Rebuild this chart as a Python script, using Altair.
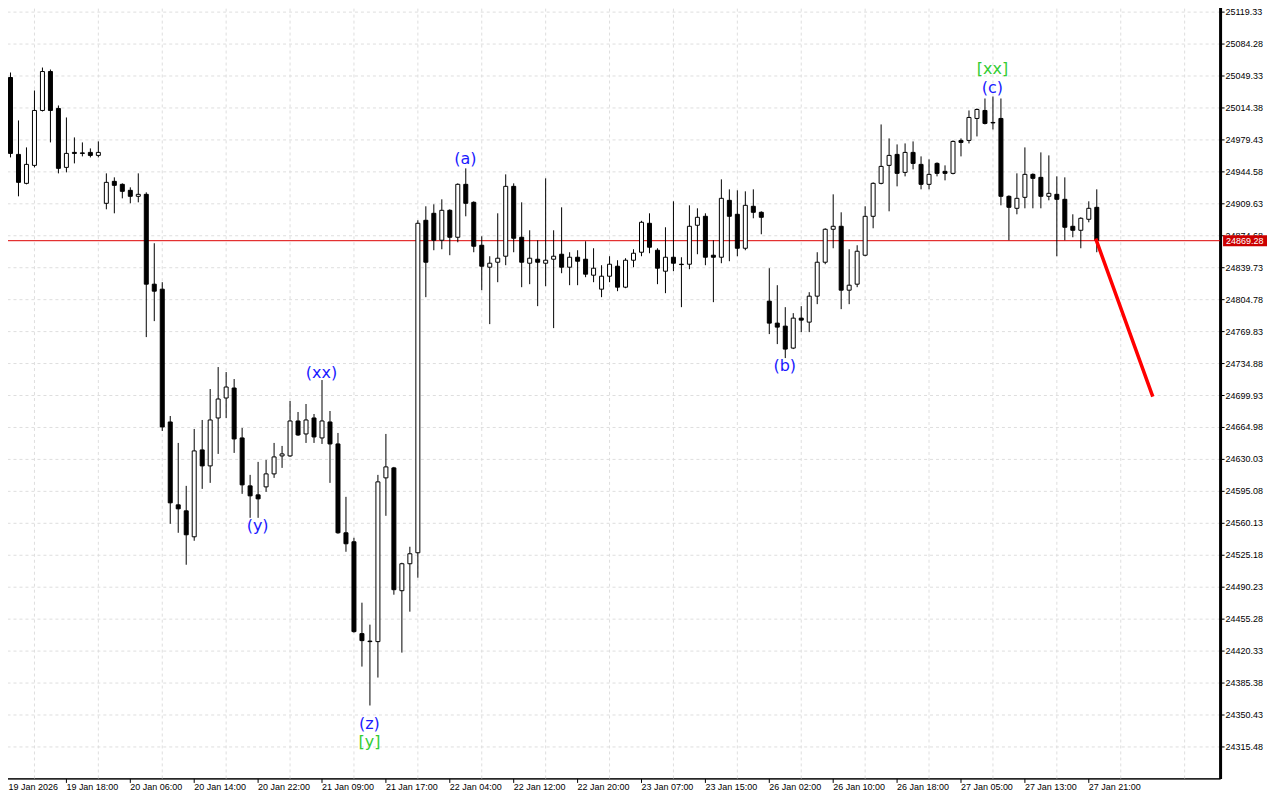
import altair as alt
import pandas as pd

# ---- candle data (H1) ----
opens = [24952.22, 25047.24, 24963.14, 24931.47, 24951.13, 25011.20, 25053.79, 25013.38, 24948.94, 24965.33,
         24964.80, 24965.33, 24962.05, 24909.62, 24933.65, 24930.38, 24923.82, 24917.27, 24919.45, 24821.16,
         24815.69, 24670.43, 24579.79, 24573.24, 24544.84, 24639.86, 24622.38, 24674.80, 24696.64, 24707.57,
         24652.96, 24600.54, 24590.71, 24599.45, 24613.65, 24633.31, 24633.31, 24671.52, 24657.33, 24674.80,
         24652.96, 24670.43, 24646.40, 24549.21, 24539.38, 24438.90, 24430.70, 24430.16, 24609.28, 24620.20,
         24485.86, 24515.35, 24527.36, 24891.06, 24898.70, 24869.21, 24901.98, 24872.49, 24930.38, 24910.72,
         24863.75, 24839.72, 24845.18, 24851.74, 24928.19, 24872.49, 24844.09, 24848.46, 24844.09, 24848.46,
         24853.92, 24839.72, 24850.64, 24848.46, 24830.99, 24815.69, 24829.89, 24840.81, 24817.88, 24847.37,
         24856.11, 24887.78, 24858.29, 24835.35, 24850.64, 24843.00, 24843.00, 24885.60, 24895.42, 24852.83,
         24850.64, 24912.90, 24897.61, 24860.47, 24906.35, 24899.79, 24802.59, 24778.56, 24775.28, 24751.25,
         24784.02, 24779.65, 24808.05, 24845.18, 24881.23, 24884.50, 24814.60, 24821.16, 24852.83, 24895.42,
         24931.47, 24951.13, 24963.14, 24943.48, 24965.33, 24952.22, 24930.38, 24953.31, 24944.57, 24942.39,
         24978.43, 24978.43, 25002.46, 25011.20, 24998.09, 25002.46, 24917.27, 24904.16, 24916.18, 24941.30,
         24938.02, 24917.27, 24919.45, 24913.99, 24884.50, 24880.13, 24892.15, 24905.25]
highs = [25050.52, 25052.70, 25000.28, 24970.79, 25033.04, 25058.16, 25055.98, 25016.66, 25003.55, 24981.71,
         24976.25, 24969.69, 24977.34, 24942.39, 24938.02, 24931.47, 24927.10, 24942.39, 24921.64, 24865.94,
         24823.34, 24676.98, 24647.50, 24600.54, 24662.79, 24672.62, 24706.47, 24730.50, 24725.04, 24717.40,
         24663.88, 24612.56, 24626.75, 24628.94, 24647.50, 24644.22, 24693.37, 24681.35, 24690.09, 24679.17,
         24716.30, 24682.45, 24658.42, 24588.53, 24543.75, 24472.75, 24448.73, 24612.56, 24657.33, 24621.29,
         24516.44, 24533.92, 24891.06, 24906.35, 24908.53, 24913.99, 24903.07, 24931.47, 24947.85, 24911.81,
         24873.58, 24851.74, 24898.70, 24941.30, 24931.47, 24910.72, 24880.13, 24869.21, 24936.93, 24880.13,
         24905.25, 24856.11, 24858.29, 24868.12, 24860.47, 24841.91, 24851.74, 24847.37, 24849.55, 24859.38,
         24890.50, 24898.70, 24860.47, 24883.41, 24911.81, 24850.64, 24907.44, 24904.16, 24898.70, 24869.21,
         24935.84, 24924.91, 24923.82, 24922.73, 24924.91, 24900.89, 24838.63, 24820.06, 24796.03, 24789.48,
         24797.13, 24812.42, 24856.11, 24882.32, 24919.45, 24899.79, 24859.38, 24863.75, 24906.35, 24932.56,
         24995.91, 24980.62, 24974.06, 24975.16, 24977.34, 24960.96, 24957.68, 24954.40, 24951.13, 24978.43,
         24980.62, 25011.20, 25013.38, 25024.30, 25026.49, 25024.30, 24918.36, 24942.39, 24970.79, 24942.39,
         24965.33, 24962.05, 24939.11, 24938.02, 24897.61, 24894.33, 24911.81, 24924.91]
lows = [24950.03, 24959.86, 24917.27, 24930.38, 24948.94, 25010.11, 24976.25, 24942.39, 24943.48, 24953.31,
        24960.96, 24959.86, 24959.86, 24903.07, 24898.70, 24915.08, 24909.62, 24910.72, 24763.27, 24780.74,
        24660.60, 24559.04, 24549.21, 24514.26, 24540.47, 24597.26, 24603.82, 24635.49, 24674.80, 24636.58,
        24591.80, 24565.59, 24565.59, 24593.99, 24609.28, 24620.20, 24632.21, 24655.14, 24647.50, 24647.50,
        24646.40, 24603.82, 24548.12, 24528.46, 24439.99, 24402.85, 24360.26, 24390.84, 24567.77, 24481.49,
        24418.14, 24462.92, 24500.06, 24806.96, 24858.29, 24859.38, 24852.83, 24867.03, 24895.42, 24856.11,
        24814.60, 24777.47, 24823.34, 24841.91, 24856.11, 24817.88, 24821.16, 24797.13, 24818.97, 24773.10,
        24833.17, 24820.06, 24820.06, 24828.80, 24823.34, 24806.96, 24823.34, 24813.51, 24816.79, 24839.72,
        24851.74, 24855.01, 24821.16, 24811.33, 24835.35, 24796.03, 24837.54, 24853.92, 24841.91, 24801.50,
        24844.09, 24846.28, 24851.74, 24858.29, 24893.24, 24875.77, 24766.55, 24755.62, 24740.33, 24750.16,
        24768.73, 24768.73, 24799.31, 24843.00, 24860.47, 24793.85, 24799.31, 24817.88, 24851.74, 24882.32,
        24930.38, 24900.89, 24928.19, 24939.11, 24946.76, 24924.91, 24924.91, 24939.11, 24934.74, 24941.30,
        24960.96, 24975.16, 24982.80, 24995.91, 24990.45, 24907.44, 24869.21, 24897.61, 24904.16, 24904.16,
        24904.16, 24912.90, 24851.74, 24869.21, 24872.49, 24860.47, 24888.87, 24856.11]
closes = [25047.24, 24964.23, 24932.56, 24952.22, 25011.20, 25053.79, 25011.20, 24947.85, 24964.23, 24964.23,
          24964.23, 24962.05, 24965.33, 24932.56, 24929.28, 24922.73, 24917.27, 24919.45, 24821.16, 24813.51,
          24664.97, 24581.97, 24575.42, 24547.02, 24638.77, 24622.38, 24672.62, 24695.55, 24708.66, 24651.86,
          24601.63, 24589.62, 24586.34, 24613.65, 24632.21, 24635.49, 24671.52, 24656.23, 24672.62, 24654.05,
          24671.52, 24646.40, 24549.21, 24537.19, 24441.08, 24431.25, 24430.16, 24604.91, 24621.29, 24486.95,
          24515.35, 24526.27, 24887.78, 24845.18, 24869.21, 24901.98, 24872.49, 24930.38, 24909.62, 24862.66,
          24840.81, 24844.09, 24849.55, 24928.19, 24871.40, 24845.18, 24849.55, 24845.18, 24847.37, 24851.74,
          24839.72, 24850.64, 24846.28, 24832.08, 24838.63, 24829.89, 24843.00, 24817.88, 24847.37, 24855.01,
          24888.87, 24861.57, 24838.63, 24850.64, 24844.09, 24842.60, 24884.50, 24894.33, 24850.64, 24850.64,
          24915.08, 24895.42, 24860.47, 24907.44, 24899.79, 24894.33, 24778.56, 24774.19, 24750.16, 24784.02,
          24781.84, 24808.05, 24845.18, 24881.23, 24884.50, 24814.60, 24820.06, 24857.20, 24895.42, 24931.47,
          24950.03, 24962.05, 24942.39, 24965.33, 24953.31, 24930.38, 24941.30, 24942.39, 24942.39, 24977.34,
          24976.25, 25003.55, 25012.29, 24997.00, 24997.60, 24917.27, 24905.25, 24915.08, 24941.30, 24936.93,
          24917.27, 24920.55, 24913.99, 24883.41, 24880.13, 24893.24, 24904.16, 24869.28]

# ---- axis labels ----
x_label_bars = list(range(0, 137, 8))
x_labels = ["19 Jan 2026", "19 Jan 18:00", "20 Jan 06:00", "20 Jan 14:00", "20 Jan 22:00",
            "21 Jan 09:00", "21 Jan 17:00", "22 Jan 04:00", "22 Jan 12:00", "22 Jan 20:00",
            "23 Jan 07:00", "23 Jan 15:00", "26 Jan 02:00", "26 Jan 10:00", "26 Jan 18:00",
            "27 Jan 05:00", "27 Jan 13:00", "27 Jan 21:00"]
v_grid_bars = list(range(4, 152, 8))
y_ticks = [25119.33, 25084.28, 25049.33, 25014.38, 24979.43, 24944.58, 24909.63, 24874.68,
           24839.73, 24804.78, 24769.83, 24734.88, 24699.93, 24664.98, 24630.03, 24595.08,
           24560.13, 24525.18, 24490.23, 24455.28, 24420.33, 24385.38, 24350.43, 24315.48]

# ---- annotations ----
current_price = [24869.28]
forecast_bars = [137, 144]
forecast_prices = [24869.28, 24699.93]
blue_text = ["(a)", "(xx)", "(y)", "(z)", "(b)", "(c)"]
blue_bars = [58, 40, 32, 46, 98, 124]
blue_prices = [24957.68, 24724.50, 24556.30, 24340.05, 24731.60, 25035.77]
green_text = ["[y]", "[xx]"]
green_bars = [46, 124]
green_prices = [24319.84, 25056.53]

df = pd.DataFrame({"i": list(range(len(opens))), "open": opens, "high": highs,
                   "low": lows, "close": closes})

x_scale = alt.Scale(domain=[0, 152.5], nice=False, zero=False)
y_scale = alt.Scale(domain=[24280.53, 25129.16], nice=False, zero=False)

label_expr = "[" + ",".join("'%s'" % s for s in x_labels) + "][round(datum.value / 8)]"
FONT = "Liberation Sans"

x_axis = alt.Axis(values=x_label_bars, labelExpr=label_expr, title=None, grid=False,
                  tickSize=4, tickColor="black", domainColor="black", domainWidth=1,
                  labelFont=FONT, labelFontSize=9, labelColor="black", labelAlign="left",
                  labelBaseline="top", labelPadding=0, labelOverlap=False, labelFlush=False,
                  labelOffset={"condition": {"test": "datum.value == 0", "value": 6}, "value": 0})
y_axis = alt.Axis(orient="right", values=y_ticks, format=".2f", title=None, grid=True,
                  gridColor="#dedede", gridDash=[3, 3], gridWidth=1,
                  tickSize=4, tickColor="black", domainColor="black", domainWidth=3,
                  labelFont=FONT, labelFontSize=9, labelColor="black", labelPadding=1,
                  labelBaseline="middle", labelOverlap=False, labelFlush=False)


def X(field):
    return alt.X(field, type="quantitative", scale=x_scale, axis=x_axis)


def Y(field):
    return alt.Y(field, type="quantitative", scale=y_scale, axis=y_axis)


vgrid = alt.Chart(pd.DataFrame({"g": v_grid_bars})).mark_rule(
    color="#dedede", strokeDash=[3, 3], strokeWidth=1, xOffset=0.5
).encode(x=X("g"))

base = alt.Chart(df)
wicks = base.mark_rule(color="black", strokeWidth=1, xOffset=0.5, clip=True).encode(
    x=X("i"), y=Y("low"), y2="high")
bodies = base.transform_calculate(
    xl="datum.i - 0.25", xr="datum.i + 0.25"
).mark_rect(stroke="black", strokeWidth=1, xOffset=0.5, x2Offset=0.5, clip=True).encode(
    x=X("xl"), x2="xr", y=Y("open"), y2="close",
    fill=alt.condition("datum.close >= datum.open", alt.value("white"), alt.value("black")))

price_df = pd.DataFrame({"p": current_price})
price_line = alt.Chart(price_df).mark_rule(color="#dd0000", strokeWidth=1, yOffset=0.5).encode(
    y=Y("p"))

forecast = alt.Chart(pd.DataFrame({"i": forecast_bars, "p": forecast_prices})).mark_line(
    color="#ff0000", strokeWidth=3.5, strokeCap="square").encode(x=X("i"), y=Y("p"))

blue_labels = alt.Chart(pd.DataFrame({"i": blue_bars, "p": blue_prices, "t": blue_text})).mark_text(
    font="DejaVu Sans", fontSize=16, color="#1a1aff", baseline="middle", align="center"
).encode(x=X("i"), y=Y("p"), text="t:N")
green_labels = alt.Chart(pd.DataFrame({"i": green_bars, "p": green_prices, "t": green_text})).mark_text(
    font="DejaVu Sans", fontSize=16, color="#33cc33", baseline="middle", align="center"
).encode(x=X("i"), y=Y("p"), text="t:N")

price_box = alt.Chart(price_df).mark_rect(color="#cc0000", yOffset=-5, y2Offset=6).encode(
    x=alt.value(1223), x2=alt.value(1267), y=Y("p"), y2="p")
price_text = alt.Chart(price_df).mark_text(
    font=FONT, fontSize=9, color="white", align="left", baseline="middle", dy=0.5
).encode(x=alt.value(1226), y=Y("p"), text=alt.Text("p:Q", format=".2f"))

chart = alt.layer(
    vgrid, price_line, wicks, bodies, forecast, blue_labels, green_labels, price_box, price_text
).properties(
    width=1220, height=777,
    padding={"left": -6, "top": -6, "right": 52, "bottom": 12},
    autosize=alt.AutoSizeParams(type="none"),
    background="white",
).configure_view(stroke="black", strokeWidth=1)

chart.save("out.html", embed_options={"renderer": "svg", "actions": False})
